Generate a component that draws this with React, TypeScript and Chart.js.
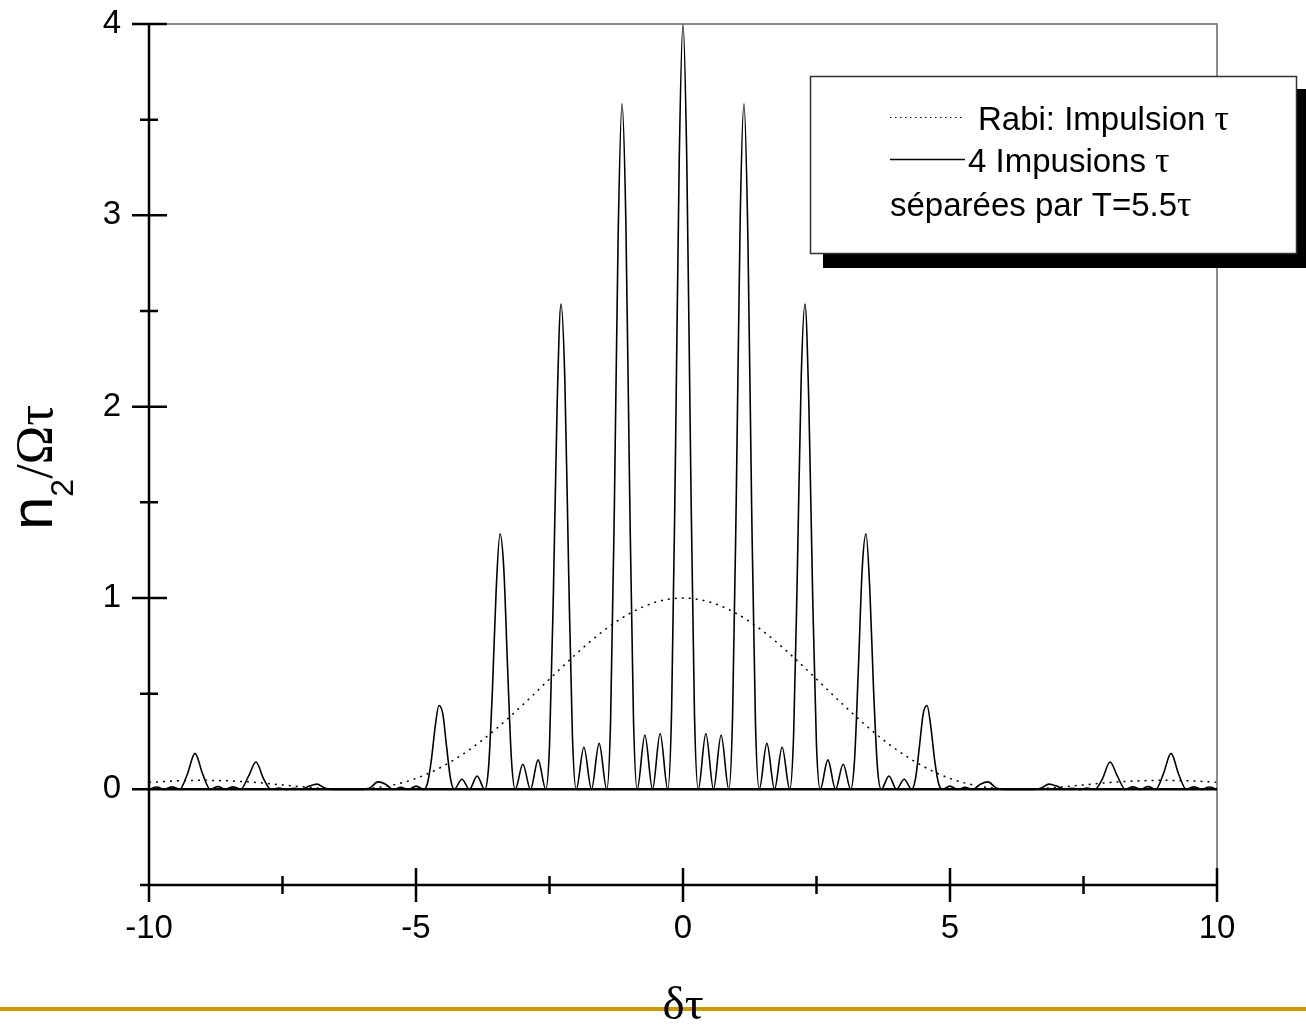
import React, { useEffect, useRef } from "react";
import { Chart, registerables } from "chart.js";

Chart.register(...registerables);

const SANS = "'Liberation Sans', Arial, Helvetica, sans-serif";
const SERIF = "'Liberation Serif', 'Times New Roman', Times, serif";

// Axis ticks
const xMajorTicks = [-10, -5, 0, 5, 10];
const xMinorTicks = [-7.5, -2.5, 2.5, 7.5];
const yMajorTicks = [0, 1, 2, 3, 4];
const yMinorTicks = [-0.5, 0.5, 1.5, 2.5, 3.5];

// Rabi: single pulse (dotted)
const rabiX = [
  -10, -9.5, -9, -8.5, -8, -7.5, -7, -6.5, -6.283, -6, -5.5, -5, -4.5, -4, -3.5, -3, -2.5, -2, -1.5, -1, -0.5,
  0,
  0.5, 1, 1.5, 2, 2.5, 3, 3.5, 4, 4.5, 5, 5.5, 6, 6.283, 6.5, 7, 7.5, 8, 8.5, 9, 9.5, 10,
];
const rabiY = [
  0.037, 0.044, 0.047, 0.044, 0.036, 0.023, 0.01, 0.001, 0, 0.002, 0.019, 0.057, 0.12, 0.207, 0.316, 0.442, 0.576, 0.708, 0.826, 0.919, 0.979,
  1,
  0.979, 0.919, 0.826, 0.708, 0.576, 0.442, 0.316, 0.207, 0.12, 0.057, 0.019, 0.002, 0, 0.001, 0.01, 0.023, 0.036, 0.044, 0.047, 0.044, 0.037,
];

// 4 pulses separated by T = 5.5 tau (solid)
const solidX = [
  -10, -9.853, -9.71, -9.568, -9.425, -9.282, -9.139, -8.996, -8.854, -8.711,
  -8.568, -8.425, -8.282, -8.14, -7.997, -7.854, -7.711, -7.568, -7.426, -7.283,
  -7.14, -6.997, -6.854, -6.712, -6.569, -5.998, -5.855, -5.712, -5.569, -5.426,
  -5.284, -5.141, -4.998, -4.855, -4.784, -4.712, -4.641, -4.57, -4.498, -4.427,
  -4.355, -4.284, -4.141, -3.998, -3.856, -3.713, -3.641, -3.57, -3.499, -3.427,
  -3.356, -3.284, -3.213, -3.142, -2.999, -2.856, -2.713, -2.57, -2.499, -2.428,
  -2.356, -2.285, -2.213, -2.142, -2.071, -1.999, -1.856, -1.714, -1.571, -1.428,
  -1.357, -1.285, -1.214, -1.142, -1.071, -1, -0.928, -0.857, -0.714, -0.571,
  -0.428, -0.286, -0.214, -0.143, -0.071, 0, 0.071, 0.143, 0.214, 0.286,
  0.428, 0.571, 0.714, 0.857, 0.928, 1, 1.071, 1.142, 1.214, 1.285,
  1.357, 1.428, 1.571, 1.714, 1.856, 1.999, 2.071, 2.142, 2.213, 2.285,
  2.356, 2.428, 2.499, 2.57, 2.713, 2.856, 2.999, 3.142, 3.213, 3.284,
  3.356, 3.427, 3.499, 3.57, 3.641, 3.713, 3.856, 3.998, 4.141, 4.284,
  4.355, 4.427, 4.498, 4.57, 4.641, 4.712, 4.784, 4.855, 4.998, 5.141,
  5.284, 5.426, 5.569, 5.712, 5.855, 5.998, 6.569, 6.712, 6.854, 6.997,
  7.14, 7.283, 7.426, 7.568, 7.711, 7.854, 7.997, 8.14, 8.282, 8.425,
  8.568, 8.711, 8.854, 8.996, 9.139, 9.282, 9.425, 9.568, 9.71, 9.853,
  10,
];
const solidY = [
  0, 0.012, 0, 0.013, 0, 0.079, 0.188, 0.081, 0, 0.014,
  0, 0.013, 0, 0.066, 0.143, 0.055, 0, 0.007, 0, 0.005,
  0, 0.017, 0.027, 0.007, 0, 0, 0.009, 0.039, 0.027, 0,
  0.01, 0, 0.017, 0, 0.033, 0.154, 0.327, 0.438, 0.394, 0.223,
  0.058, 0, 0.053, 0, 0.07, 0, 0.115, 0.512, 1.039, 1.335,
  1.153, 0.63, 0.157, 0, 0.131, 0, 0.154, 0, 0.234, 1.017,
  2.02, 2.536, 2.144, 1.146, 0.28, 0, 0.22, 0, 0.24, 0,
  0.347, 1.484, 2.901, 3.583, 2.982, 1.569, 0.377, 0, 0.284, 0,
  0.292, 0, 0.404, 1.704, 3.283, 4.0, 3.283, 1.704, 0.404, 0,
  0.292, 0, 0.284, 0, 0.377, 1.569, 2.982, 3.583, 2.901, 1.484,
  0.347, 0, 0.24, 0, 0.22, 0, 0.28, 1.146, 2.144, 2.536,
  2.02, 1.017, 0.234, 0, 0.154, 0, 0.131, 0, 0.157, 0.63,
  1.153, 1.335, 1.039, 0.512, 0.115, 0, 0.07, 0, 0.053, 0,
  0.058, 0.223, 0.394, 0.438, 0.327, 0.154, 0.033, 0, 0.017, 0,
  0.01, 0, 0.027, 0.039, 0.009, 0, 0, 0.007, 0.027, 0.017,
  0, 0.005, 0, 0.007, 0, 0.055, 0.143, 0.066, 0, 0.013,
  0, 0.014, 0, 0.081, 0.188, 0.079, 0, 0.013, 0, 0.012,
  0,
];

const legendRows = [
  { text: "Rabi: Impulsion ", tail: "τ" },
  { text: "4 Impusions ", tail: "τ" },
  { text: "séparées par T=5.5", tail: "τ" },
];

const decorPlugin = {
  id: "decor",
  afterDraw(chart: any) {
    const ctx: CanvasRenderingContext2D = chart.ctx;
    const xs = chart.scales.x;
    const ys = chart.scales.y;
    const { left: L, right: R, top: T, bottom: B } = chart.chartArea;
    ctx.save();

    // thin frame (top & right)
    ctx.strokeStyle = "#666";
    ctx.lineWidth = 1.5;
    ctx.beginPath();
    ctx.moveTo(L, T);
    ctx.lineTo(R, T);
    ctx.lineTo(R, B);
    ctx.stroke();

    // axes, zero line and ticks
    ctx.strokeStyle = "#000";
    ctx.lineWidth = 2.5;
    ctx.beginPath();
    ctx.moveTo(L, T);
    ctx.lineTo(L, B);
    ctx.moveTo(L, B);
    ctx.lineTo(R, B);
    const y0 = ys.getPixelForValue(0);
    ctx.moveTo(L, y0);
    ctx.lineTo(R, y0);
    for (const v of yMajorTicks) {
      const p = ys.getPixelForValue(v);
      ctx.moveTo(L - 17, p);
      ctx.lineTo(L + 18, p);
    }
    for (const v of yMinorTicks) {
      const p = ys.getPixelForValue(v);
      ctx.moveTo(L - 9, p);
      ctx.lineTo(L + 9, p);
    }
    for (const v of xMajorTicks) {
      const p = xs.getPixelForValue(v);
      ctx.moveTo(p, B - 17);
      ctx.lineTo(p, B + 17);
    }
    for (const v of xMinorTicks) {
      const p = xs.getPixelForValue(v);
      ctx.moveTo(p, B - 9);
      ctx.lineTo(p, B + 9);
    }
    ctx.stroke();

    // y-axis title: n_2/Ωτ (rotated)
    ctx.save();
    ctx.translate(52, 530);
    ctx.rotate(-Math.PI / 2);
    ctx.fillStyle = "#000";
    ctx.textBaseline = "alphabetic";
    ctx.textAlign = "left";
    let cx = 0;
    ctx.font = `60px ${SANS}`;
    ctx.fillText("n", cx, 0);
    cx += ctx.measureText("n").width;
    ctx.font = `32px ${SANS}`;
    ctx.fillText("2", cx, 21);
    cx += ctx.measureText("2").width;
    ctx.font = `52px ${SERIF}`;
    ctx.fillText("/Ωτ", cx, 0);
    ctx.restore();

    // bottom decorative rule and x title
    ctx.fillStyle = "#CC9900";
    ctx.fillRect(0, 1007, chart.width, 4);
    ctx.fillStyle = "#000";
    ctx.font = `47px ${SERIF}`;
    ctx.textAlign = "center";
    ctx.textBaseline = "alphabetic";
    ctx.fillText("δτ", (L + R) / 2, 1019);

    // legend box with shadow
    ctx.fillStyle = "#000";
    ctx.fillRect(823, 89, chart.width - 823, 268 - 89);
    ctx.fillStyle = "#fff";
    ctx.fillRect(810, 76, 487, 178);
    ctx.strokeStyle = "#333";
    ctx.lineWidth = 1.5;
    ctx.strokeRect(810.5, 76.5, 486, 177);

    // samples
    ctx.strokeStyle = "#000";
    ctx.lineWidth = 1.2;
    ctx.setLineDash([1.5, 3.5]);
    ctx.beginPath();
    ctx.moveTo(890, 117.5);
    ctx.lineTo(962, 117.5);
    ctx.stroke();
    ctx.setLineDash([]);
    ctx.lineWidth = 1.5;
    ctx.beginPath();
    ctx.moveTo(890, 159.5);
    ctx.lineTo(965, 159.5);
    ctx.stroke();

    const rowPos = [
      [978, 130],
      [968, 172],
      [890, 216],
    ];
    ctx.textAlign = "left";
    ctx.fillStyle = "#000";
    legendRows.forEach((row, i) => {
      const [tx, ty] = rowPos[i];
      ctx.font = `33px ${SANS}`;
      ctx.fillText(row.text, tx, ty);
      const w = ctx.measureText(row.text).width;
      ctx.font = `36px ${SERIF}`;
      ctx.fillText(row.tail, tx + w, ty);
    });

    ctx.restore();
  },
};

export default function App() {
  const canvasRef = useRef<HTMLCanvasElement | null>(null);

  useEffect(() => {
    const canvas = canvasRef.current;
    if (!canvas) return;
    const chart = new Chart(canvas, {
      type: "line",
      data: {
        datasets: [
          {
            label: "Rabi: Impulsion τ",
            data: rabiX.map((x, i) => ({ x, y: rabiY[i] })),
            borderColor: "#000",
            borderWidth: 1.5,
            borderDash: [2, 5],
            pointRadius: 0,
            cubicInterpolationMode: "monotone",
            fill: false,
          },
          {
            label: "4 Impusions τ",
            data: solidX.map((x, i) => ({ x, y: solidY[i] })),
            borderColor: "#000",
            borderWidth: 1.6,
            pointRadius: 0,
            cubicInterpolationMode: "monotone",
            fill: false,
          },
        ],
      },
      options: {
        responsive: false,
        animation: false,
        devicePixelRatio: 1,
        layout: { padding: { left: 0, top: 24, right: 89, bottom: 0 } },
        plugins: {
          legend: { display: false },
          tooltip: { enabled: false },
          title: { display: false },
        },
        elements: { point: { radius: 0 } },
        scales: {
          x: {
            type: "linear",
            min: -10,
            max: 10,
            afterBuildTicks: (s: any) => {
              s.ticks = xMajorTicks.map((v) => ({ value: v }));
            },
            afterFit: (s: any) => {
              s.height = 145;
              s.paddingLeft = 0;
              s.paddingRight = 0;
              s.paddingTop = 0;
              s.paddingBottom = 0;
            },
            grid: { display: false, drawTicks: false },
            border: { display: false },
            ticks: {
              font: { family: SANS, size: 33 },
              color: "#000",
              padding: 24,
              maxRotation: 0,
              minRotation: 0,
              autoSkip: false,
            },
          },
          y: {
            type: "linear",
            min: -0.5,
            max: 4,
            afterBuildTicks: (s: any) => {
              s.ticks = yMajorTicks.map((v) => ({ value: v }));
            },
            afterFit: (s: any) => {
              s.width = 149;
              s.paddingLeft = 0;
              s.paddingRight = 0;
              s.paddingTop = 0;
              s.paddingBottom = 0;
            },
            grid: { display: false, drawTicks: false },
            border: { display: false },
            ticks: {
              font: { family: SANS, size: 33 },
              color: "#000",
              padding: 28,
              autoSkip: false,
            },
          },
        },
      },
      plugins: [decorPlugin],
    });
    return () => chart.destroy();
  }, []);

  return (
    <div style={{ position: "absolute", left: 0, top: 0, width: 1306, height: 1030, background: "#fff" }}>
      <canvas ref={canvasRef} width={1306} height={1030} style={{ display: "block", width: 1306, height: 1030 }} />
    </div>
  );
}
